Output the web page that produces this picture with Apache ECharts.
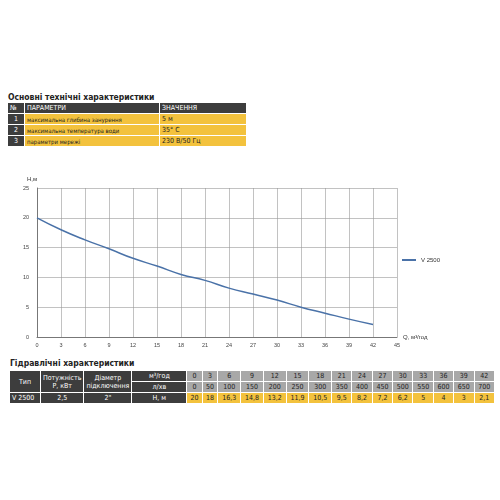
<!DOCTYPE html>
<html><head><meta charset="utf-8">
<script src="https://cdn.jsdelivr.net/npm/echarts@6/dist/echarts.min.js"></script>
<style>
body{margin:0;width:500px;height:500px;background:#fff;font-family:"Liberation Sans Narrow","DejaVu Sans Condensed",sans-serif;position:relative;overflow:hidden}
.t{position:absolute;font-weight:bold;font-size:8.5px;color:#222}
table{position:absolute;border-collapse:separate;border-spacing:1px;font-size:7px}
td{padding:0 2px;height:10px;white-space:nowrap}
.d{background:#3d3d3d;color:#fff}
.y{background:#f3c23d;color:#222}
.g{background:#a8a8a8;color:#222;text-align:center}
.yc{background:#f3c23d;color:#222;text-align:center}
#chart{position:absolute;left:0;top:165px;width:500px;height:190px}
</style></head><body>
<div class="t" style="left:8px;top:92px">Основні технічні характеристики</div>
<table id="spec" style="left:7px;top:102px;width:240px"></table>
<div id="chart"></div>
<div class="t" style="left:10px;top:358px">Гідравлічні характеристики</div>
<table id="hyd" style="left:9px;top:370px;width:486px"></table>
<script>
var paramNames = ['максимальна глибина занурення', 'максимальна температура води', 'параметри мережі'];
var paramValues = ['5 м', '35° C', '230 В/50 Гц'];
var flowM3 = [0, 3, 6, 9, 12, 15, 18, 21, 24, 27, 30, 33, 36, 39, 42];
var flowL = [0, 50, 100, 150, 200, 250, 300, 350, 400, 450, 500, 550, 600, 650, 700];
var head = [20, 18, 16.3, 14.8, 13.2, 11.9, 10.5, 9.5, 8.2, 7.2, 6.2, 5, 4, 3, 2.1];

var h = '<tr><td class="d" style="width:12px">№</td><td class="d" style="width:130px">ПАРАМЕТРИ</td><td class="d">ЗНАЧЕННЯ</td></tr>';
for (var i = 0; i < paramNames.length; i++) {
    h += '<tr><td class="d" style="text-align:center">' + (i + 1) + '</td><td class="y" style="font-size:6px">' + paramNames[i] + '</td><td class="y">' + paramValues[i] + '</td></tr>';
}
document.getElementById('spec').innerHTML = h;

var r1 = '<tr><td class="d" rowspan="2" style="text-align:center;width:26px">Тип</td><td class="d" rowspan="2" style="text-align:center;width:36px;line-height:8px">Потужність<br>Р, кВт</td><td class="d" rowspan="2" style="text-align:center;width:40px;line-height:8px">Діаметр<br>підключення</td><td class="d" style="text-align:center;width:50px">м³/год</td>';
var r2 = '<tr><td class="d" style="text-align:center">л/хв</td>';
var r3 = '<tr><td class="d">V 2500</td><td class="d" style="text-align:center">2,5</td><td class="d" style="text-align:center">2"</td><td class="d" style="text-align:center">Н, м</td>';
for (var j = 0; j < flowM3.length; j++) {
    r1 += '<td class="g">' + flowM3[j] + '</td>';
    r2 += '<td class="g">' + flowL[j] + '</td>';
    r3 += '<td class="yc">' + String(head[j]).replace('.', ',') + '</td>';
}
document.getElementById('hyd').innerHTML = r1 + '</tr>' + r2 + '</tr>' + r3 + '</tr>';

var chart = echarts.init(document.getElementById('chart'));
chart.setOption({
    animation: false,
    textStyle: {fontFamily: 'Liberation Sans Narrow, sans-serif'},
    grid: {left: 37, right: 103, top: 23, bottom: 18},
    legend: {
        right: 55, top: 'middle', orient: 'vertical', itemWidth: 14, itemHeight: 2,
        icon: 'rect', textStyle: {fontSize: 6, color: '#333'}, itemGap: 2
    },
    xAxis: {
        type: 'value', min: 0, max: 45, interval: 3,
        name: 'Q, м³/год', nameGap: 6, nameTextStyle: {fontSize: 6, color: '#333'},
        axisLine: {lineStyle: {color: '#777'}}, axisTick: {show: false},
        axisLabel: {fontSize: 5.5, color: '#444', margin: 5},
        splitLine: {lineStyle: {color: '#999', width: 0.6}}
    },
    yAxis: {
        type: 'value', min: 0, max: 25, interval: 5,
        name: 'H,м', nameGap: 6, nameTextStyle: {fontSize: 6, color: '#333', align: 'right'},
        axisLine: {show: true, lineStyle: {color: '#777'}}, axisTick: {show: false},
        axisLabel: {fontSize: 5.5, color: '#444'},
        splitLine: {lineStyle: {color: '#999', width: 0.6}}
    },
    series: [{
        name: 'V 2500', type: 'line', smooth: true, showSymbol: false,
        lineStyle: {color: '#4a72a8', width: 1.5}, itemStyle: {color: '#4a72a8'},
        data: flowM3.map(function (q, k) { return [q, head[k]]; })
    }]
});
</script>
</body></html>
